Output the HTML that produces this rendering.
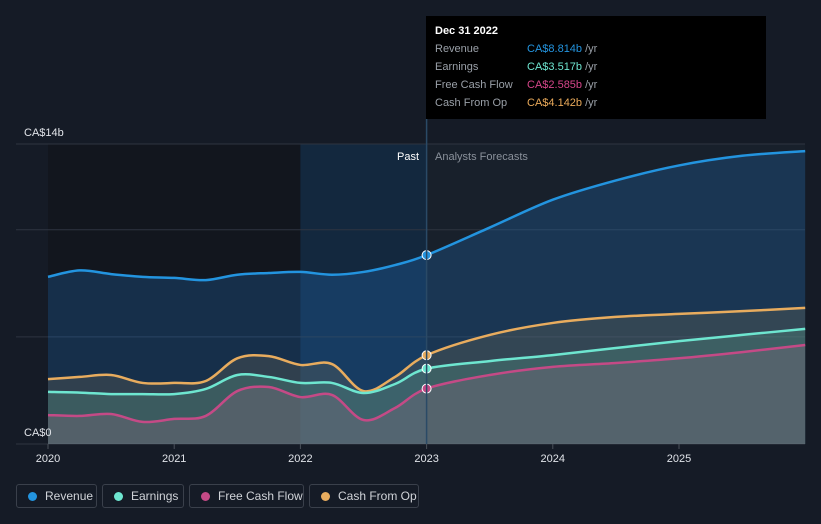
<!DOCTYPE html>
<html><head><meta charset="utf-8"><style>
body{margin:0;background:#151b26;font-family:"Liberation Sans",sans-serif;}
#wrap{position:relative;width:821px;height:524px;overflow:hidden;background:#151b26}
.tt{position:absolute;left:426px;top:16px;width:340px;height:103px;background:#000;color:#fff;font-size:11px}
.tt div{position:absolute;left:9px;white-space:nowrap;width:320px}
.tt span{position:absolute;left:92px;white-space:nowrap}
.leg{position:absolute;top:484px;height:24px;border:1px solid #3a404b;border-radius:3px;box-sizing:border-box;color:#d0d3d8;font-size:12px;line-height:22px;padding-left:28px;white-space:nowrap}
.leg i{position:absolute;left:11px;top:7px;width:9px;height:9px;border-radius:50%}
</style></head><body>
<div id="wrap">
<svg id="svg" width="821" height="524" style="position:absolute;left:0;top:0"></svg>
<div class="tt">
<div style="top:9px;font-weight:bold">Dec 31 2022</div>
<div style="top:27px;color:#9aa0a8">Revenue<span style="color:#2394df">CA$8.814b <b style="color:#9aa0a8;font-weight:normal">/yr</b></span></div>
<div style="top:45px;color:#9aa0a8">Earnings<span style="color:#6ee6d0">CA$3.517b <b style="color:#9aa0a8;font-weight:normal">/yr</b></span></div>
<div style="top:63px;color:#9aa0a8">Free Cash Flow<span style="color:#d6468a">CA$2.585b <b style="color:#9aa0a8;font-weight:normal">/yr</b></span></div>
<div style="top:81px;color:#9aa0a8">Cash From Op<span style="color:#eaaa5a">CA$4.142b <b style="color:#9aa0a8;font-weight:normal">/yr</b></span></div>
</div>
<div class="leg" style="left:16px;width:81px"><i style="background:#2394df"></i>Revenue</div>
<div class="leg" style="left:102px;width:82px"><i style="background:#6ee6d0"></i>Earnings</div>
<div class="leg" style="left:189px;width:115px"><i style="background:#c44a86"></i>Free Cash Flow</div>
<div class="leg" style="left:309px;width:110px"><i style="background:#e8ac5e"></i>Cash From Op</div>
</div>
<script>
const years=[2020,2020.25,2020.5,2020.75,2021,2021.25,2021.5,2021.75,2022,2022.25,2022.5,2022.75,2023,2023.5,2024,2024.5,2025,2025.5,2026];
const revenue=[7.8,8.1,7.93,7.8,7.75,7.65,7.9,7.98,8.03,7.9,8.03,8.35,8.814,10.1,11.4,12.3,13.0,13.45,13.67];
const cashOp=[3.03,3.13,3.22,2.85,2.85,2.94,4.0,4.1,3.69,3.73,2.47,3.13,4.142,5.09,5.65,5.93,6.07,6.2,6.35];
const earnings=[2.43,2.4,2.33,2.33,2.33,2.57,3.22,3.13,2.85,2.85,2.38,2.8,3.517,3.87,4.15,4.48,4.8,5.09,5.37];
const fcf=[1.35,1.31,1.4,1.03,1.17,1.31,2.47,2.66,2.19,2.29,1.12,1.68,2.585,3.22,3.6,3.78,4.0,4.29,4.62];
const xTicks=[2020,2021,2022,2023,2024,2025];
const yTicks=[0,5,10,14];
const NOW=2023;
const X=v=>48+(v-2020)*126.2, Y=v=>444-v*300/14;
const svg=document.getElementById('svg'),NS='http://www.w3.org/2000/svg';
function mk(t,a,p){const e=document.createElementNS(NS,t);for(const k in a)e.setAttribute(k,a[k]);(p||svg).appendChild(e);return e;}
function path(vals){const p=years.map((y,i)=>[X(y),Y(vals[i])]);let d='M'+p[0];for(let i=0;i<p.length-1;i++){const p0=p[i-1]||p[i],p1=p[i],p2=p[i+1],p3=p[i+2]||p2;d+=' C'+(p1[0]+(p2[0]-p0[0])/6)+','+(p1[1]+(p2[1]-p0[1])/6)+' '+(p2[0]-(p3[0]-p1[0])/6)+','+(p2[1]-(p3[1]-p1[1])/6)+' '+p2;}return d;}
let r=mk('rect',{x:48,y:144,width:X(2022)-48,height:300,fill:'#12161e'});
r=mk('rect',{x:X(2022),y:144,width:X(NOW)-X(2022),height:300,fill:'#13283e'});
r=mk('rect',{x:X(NOW),y:144,width:805-X(NOW),height:300,fill:'#18202b'});
yTicks.forEach(t=>{const l=mk('line',{x1:16,x2:805,y1:Y(t),y2:Y(t),stroke:'#2e3440'});});
const series=[[revenue,'#2394df','rgba(35,120,200,0.26)','revenue'],[cashOp,'#e8ac5e','rgba(120,110,90,0.28)','cash-from-op'],[earnings,'#6ee6d0','rgba(90,160,140,0.28)','earnings'],[fcf,'#c44a86','rgba(140,110,130,0.30)','free-cash-flow']];
series.forEach(s=>{const d=path(s[0]);const a=mk('path',{d:d+' L'+X(2026)+','+Y(0)+' L'+X(2020)+','+Y(0)+'Z',fill:s[2]});});
series.forEach(s=>{const l=mk('path',{d:path(s[0]),fill:'none',stroke:s[1],'stroke-width':2.5});
const i=years.indexOf(NOW);const c=mk('circle',{cx:X(NOW),cy:Y(s[0][i]),r:4.5,fill:s[1],stroke:'#fff','stroke-width':1});});
const nl=mk('line',{x1:X(NOW),x2:X(NOW),y1:119,y2:444,stroke:'#2a4a66','stroke-width':1.5});
function txt(x,y,s,fill,anchor,size,name){const t=mk('text',{x:x,y:y,fill:fill,'font-size':size||11,'text-anchor':anchor||'start','font-family':'Liberation Sans'});t.textContent=s;}
txt(24,136,'CA$14b','#e0e3e8','start',11,'y-label-top');
txt(24,436,'CA$0','#e0e3e8','start',11,'y-label-zero');
txt(419,160,'Past','#ffffff','end',11,'past-label');
txt(435,160,'Analysts Forecasts','#8a919b','start',11,'forecast-label');
xTicks.forEach(t=>{const l=mk('line',{x1:X(t),x2:X(t),y1:444,y2:449,stroke:'#4a505a'});txt(X(t),462,String(t),'#e0e3e8','middle',11,'x-tick-label');});
</script>
</body></html>
